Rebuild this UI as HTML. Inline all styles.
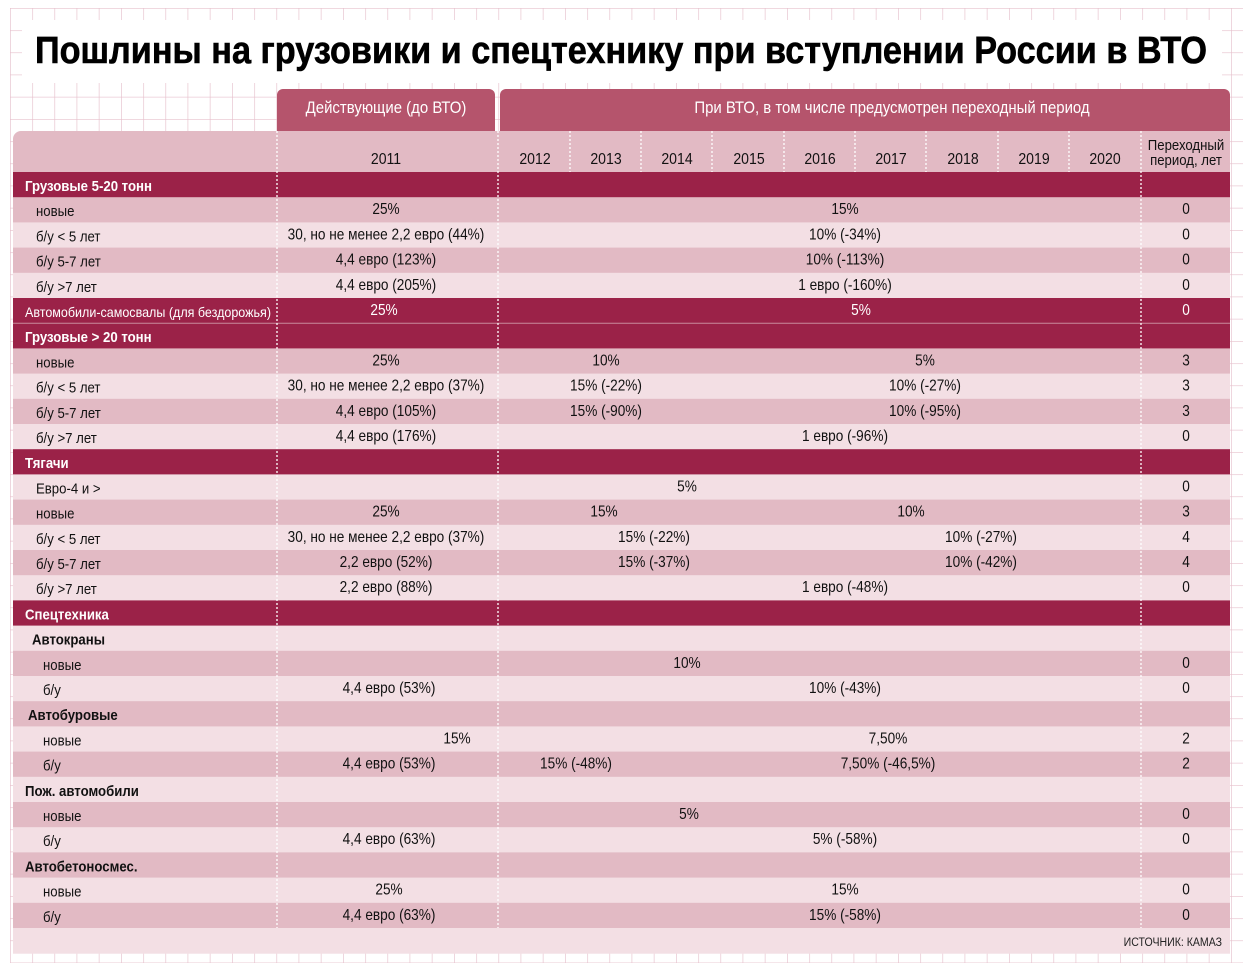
<!DOCTYPE html>
<html><head><meta charset="utf-8"><style>
html,body{margin:0;padding:0;background:#fff;}
svg{display:block;font-family:"Liberation Sans",sans-serif;}
</style></head><body>
<svg id="s" width="1243" height="963" viewBox="0 0 1243 963" xmlns="http://www.w3.org/2000/svg">
<defs>
<pattern id="grid" x="10" y="8" width="22.2" height="22.2" patternUnits="userSpaceOnUse">
<path d="M0 0H22.2M0 0V22.2" stroke="#e6c0cc" stroke-width="1.3" fill="none"/>
</pattern>
</defs>
<rect x="10" y="8" width="1233" height="955" fill="url(#grid)"/>
<rect x="22" y="20" width="1200" height="63" fill="#fff"/>
<text x="35" y="63" font-size="38" font-weight="bold" textLength="1172" lengthAdjust="spacingAndGlyphs" fill="#000" stroke="#000" stroke-width="0.6">Пошлины на грузовики и спецтехнику при вступлении России в ВТО</text>
<path d="M277 131V95a6 6 0 0 1 6-6H489a6 6 0 0 1 6 6V131Z" fill="#b5546c"/>
<path d="M500 131V95a6 6 0 0 1 6-6H1224a6 6 0 0 1 6 6V131Z" fill="#b5546c"/>
<text transform="translate(386 113) scale(0.88 1)" font-size="17" fill="#fff" text-anchor="middle">Действующие (до ВТО)</text>
<text transform="translate(892 113) scale(0.88 1)" font-size="17" fill="#fff" text-anchor="middle">При ВТО, в том числе предусмотрен переходный период</text>
<path d="M13 172V139a8 8 0 0 1 8-8H1230V172Z" fill="#e2bac4"/>
<g id="body"></g>
</svg>
<script>
const years=['2011','2012','2013','2014','2015','2016','2017','2018','2019','2020'];
const yearX=[386,535,606,677,749,820,891,963,1034,1105];
const body=document.getElementById('body');
const NS='http://www.w3.org/2000/svg';
const SX=0.88;
function mk(tag,attrs){const e=document.createElementNS(NS,tag);for(const k in attrs)e.setAttribute(k,attrs[k]);body.appendChild(e);return e;}
function txt(x,y,size,anchor,fill,weight){return mk('text',{transform:'translate('+x+' '+y+') scale('+SX+' 1)','font-size':size,'text-anchor':anchor,fill:fill,'font-weight':weight||'normal'});}
years.forEach((y,i)=>{
  const t=txt(yearX[i],164,16,'middle','#111');
  
  
  t.textContent=y;
});
const ph1=txt(1186,150,15,'middle','#111');


ph1.textContent='Переходный';
const ph2=txt(1186,165,15,'middle','#111');


ph2.textContent='период, лет';

const rows=[
['d','Грузовые 5-20 тонн',[],''],
['n','новые',[[386,'25%'],[845,'15%']],'0'],
['n','б/у < 5 лет',[[386,'30, но не менее 2,2 евро (44%)'],[845,'10% (-34%)']],'0'],
['n','б/у  5-7 лет',[[386,'4,4 евро (123%)'],[845,'10%  (-113%)']],'0'],
['n','б/у  >7 лет',[[386,'4,4 евро (205%)'],[845,'1 евро (-160%)']],'0'],
['s','Автомобили-самосвалы (для бездорожья)',[[384,'25%'],[861,'5%']],'0'],
['d','Грузовые > 20 тонн',[],''],
['n','новые',[[386,'25%'],[606,'10%'],[925,'5%']],'3'],
['n','б/у < 5 лет',[[386,'30, но не менее 2,2 евро (37%)'],[606,'15% (-22%)'],[925,'10% (-27%)']],'3'],
['n','б/у  5-7 лет',[[386,'4,4 евро (105%)'],[606,'15% (-90%)'],[925,'10% (-95%)']],'3'],
['n','б/у  >7 лет',[[386,'4,4 евро (176%)'],[845,'1 евро (-96%)']],'0'],
['d','Тягачи',[],''],
['n','Евро-4 и >',[[687,'5%']],'0'],
['n','новые',[[386,'25%'],[604,'15%'],[911,'10%']],'3'],
['n','б/у < 5 лет',[[386,'30, но не менее 2,2 евро (37%)'],[654,'15% (-22%)'],[981,'10% (-27%)']],'4'],
['n','б/у  5-7 лет',[[386,'2,2 евро (52%)'],[654,'15% (-37%)'],[981,'10% (-42%)']],'4'],
['n','б/у  >7 лет',[[386,'2,2 евро (88%)'],[845,'1 евро (-48%)']],'0'],
['d','Спецтехника',[],''],
['b','Автокраны',[],'',32],
['n','новые',[[687,'10%']],'0',43],
['n','б/у',[[389,'4,4 евро (53%)'],[845,'10% (-43%)']],'0',43],
['b','Автобуровые',[],'',28],
['n','новые',[[457,'15%'],[888,'7,50%']],'2',43],
['n','б/у',[[389,'4,4 евро (53%)'],[576,'15% (-48%)'],[888,'7,50% (-46,5%)']],'2',43],
['b','Пож. автомобили',[],'',25],
['n','новые',[[689,'5%']],'0',43],
['n','б/у',[[389,'4,4 евро (63%)'],[845,'5% (-58%)']],'0',43],
['b','Автобетоносмес.',[],'',25],
['n','новые',[[389,'25%'],[845,'15%']],'0',43],
['n','б/у',[[389,'4,4 евро (63%)'],[845,'15% (-58%)']],'0',43],
['e','',[],'']
];
const R=25.2, top0=172;
rows.forEach((r,i)=>{
  const y=top0+i*R;
  const dark=(r[0]=='d'||r[0]=='s');
  const fill=dark?'#9b2248':(i%2==1?'#e2bac4':'#f3dfe4');
  const rr=mk('rect',{x:13,y:y,width:1217,height:R+0.5,fill:fill});
  
  
  if(r[0]=='e'){
    const src=txt(1222,y+18,12,'end','#222');
    
    
    src.textContent='ИСТОЧНИК: КАМАЗ';
    return;
  }
  const lx=r[4]||(r[0]=='n'?36:25);
  let lab;
  if(r[0]=='s'){
    lab=mk('text',{x:lx,y:y+19,'font-size':14,fill:'#fff',textLength:246,lengthAdjust:'spacingAndGlyphs'});
  } else {
    lab=txt(lx,y+19,15,'start',dark?'#fff':'#111',(r[0]=='d'||r[0]=='b')?'bold':'normal');
  }
  
  
  lab.textContent=r[1];
  r[2].forEach((c,j)=>{
    const t=txt(c[0],y+17,15.5,'middle',dark?'#fff':'#111');
    
    
    t.textContent=c[1];
  });
  if(r[3]!==''){
    const t=txt(1186,y+17,15.5,'middle',dark?'#fff':'#111');
    
    
    t.textContent=r[3];
  }
});
const sep=mk('line',{x1:13,y1:top0+6*R,x2:1230,y2:top0+6*R,stroke:'#c98a9c','stroke-width':1});


[277,498,1141].forEach((x,i)=>{
  const l=mk('line',{x1:x,y1:131,x2:x,y2:top0+30*R,stroke:'#fff','stroke-width':1.3,'stroke-dasharray':'2 2'});
  
  
});
[570,641,712,784,855,926,998,1069].forEach((x,i)=>{
  const l=mk('line',{x1:x,y1:131,x2:x,y2:172,stroke:'#fff','stroke-width':1.3,'stroke-dasharray':'2 2'});
  
  
});
</script>
</body></html>
